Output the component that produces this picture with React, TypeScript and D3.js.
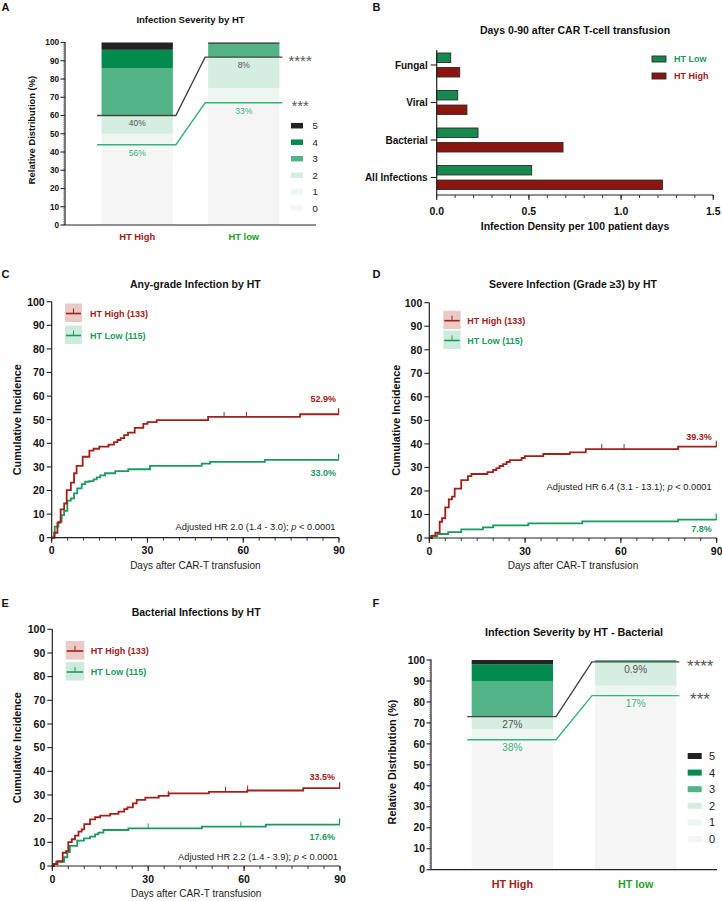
import React from 'react';
import * as d3 from 'd3';

const FONT = '"Liberation Sans", Arial, Helvetica, sans-serif';
const RED = '#a3201a';
const GREEN = '#1b9b5f';
const LABEL_GREEN = '#1f9e2c';
const LINE_GREEN = '#35b27d';
const AXIS = '#222';
const GRADE_COLORS = ['#f5f5f5', '#edf6f1', '#d6ede2', '#52b386', '#008a4e', '#232323'];

// ---------- Panel A / F : severity distribution ----------
const severityGroups = ['HT High', 'HT low'];
const severityGrades = ['0', '1', '2', '3', '4', '5'];

const allGradeHigh = [44, 6, 10, 26, 10, 4];
const allGradeLow = [67, 8, 17, 7, 0.3, 0.7];
const allLineBlack = [60, 92];
const allLineGreen = [44, 67];
const allBlackLabels = ['40%', '8%'];
const allGreenLabels = ['56%', '33%'];

const bactGradeHigh = [62, 5, 6, 17, 8, 2];
const bactGradeLow = [83, 4.8, 11.3, 0.9, 0, 0];
const bactLineBlack = [73, 99.1];
const bactLineGreen = [62, 83];
const bactBlackLabels = ['27%', '0.9%'];
const bactGreenLabels = ['38%', '17%'];

// ---------- Panel B : infection density ----------
const densityCategories = ['Fungal', 'Viral', 'Bacterial', 'All Infections'];
const densitySeries = ['HT Low', 'HT High'];
const densityLow = [0.076, 0.114, 0.224, 0.515];
const densityHigh = [0.125, 0.164, 0.685, 1.224];
const densityTicks = [0, 0.5, 1.0, 1.5];

// ---------- Panel C : any-grade ----------
const anyHighDays = [0, 0.8, 1.8, 2.8, 3.9, 4.7, 6.0, 7.0, 7.8, 9.7, 11.8, 13.1, 14.9, 17.8, 19.5, 20.6, 21.6, 22.7, 23.9, 26.0, 28.7, 30.0, 32.9, 49.0, 77.8];
const anyHighValues = [0, 2.1, 6.4, 12.0, 14.5, 20.2, 23.3, 27.3, 30.4, 34.3, 36.9, 37.7, 38.6, 39.4, 40.5, 41.4, 42.2, 43.5, 44.5, 46.5, 48.2, 49.0, 49.8, 51.2, 52.3];
const anyHighCensor = [54, 61];
const anyLowDays = [0, 0.95, 2.1, 3.1, 3.9, 4.9, 6.0, 7.0, 8.0, 9.4, 10.5, 11.8, 13.1, 14.1, 15.2, 16.7, 19.9, 24.0, 30.8, 47.0, 49.6, 66.8];
const anyLowValues = [0, 4.7, 6.8, 9.6, 11.4, 15.7, 16.7, 18.8, 20.9, 22.7, 23.7, 24.0, 24.7, 25.6, 26.4, 27.3, 28.2, 29.0, 30.4, 31.4, 32.1, 33.0];
const anyLowCensor: number[] = [];

// ---------- Panel D : severe ----------
const sevHighDays = [0, 0.85, 1.9, 3.25, 4.0, 5.0, 6.1, 7.1, 7.95, 10.0, 12.1, 13.2, 18.2, 20.0, 21.0, 22.0, 23.1, 24.2, 25.2, 28.9, 29.9, 35.7, 44.0, 49.0, 77.9];
const sevHighValues = [0, 1.0, 2.3, 6.9, 8.4, 13.0, 16.4, 17.6, 21.0, 24.6, 26.3, 27.2, 28.0, 28.9, 29.7, 30.6, 31.4, 32.3, 33.1, 34.0, 34.8, 35.7, 36.4, 37.8, 38.8];
const sevHighCensor = [54, 61];
const sevLowDays = [0, 0.4, 2.5, 5.9, 10.0, 16.8, 20.0, 31.0, 47.9, 77.9];
const sevLowValues = [0, 0.85, 1.7, 2.5, 3.7, 4.5, 5.4, 6.2, 7.1, 7.8];
const sevLowCensor: number[] = [];

// ---------- Panel E : bacterial ----------
const bacHighDays = [0, 0.5, 1.6, 3.25, 4.3, 5.0, 6.1, 7.1, 8.2, 9.2, 10.0, 11.8, 13.4, 15.0, 18.1, 20.7, 22.5, 23.5, 25.2, 26.4, 29.1, 33.3, 36.4, 49.0, 61.0, 78.5];
const bacHighValues = [0, 0.85, 2.0, 5.6, 6.3, 10.1, 11.3, 12.8, 14.5, 15.5, 17.7, 19.7, 20.6, 21.3, 22.0, 23.0, 24.0, 24.8, 26.5, 27.9, 28.9, 29.6, 30.7, 31.3, 31.9, 32.9];
const bacHighCensor = [36.3, 54.2, 61.1];
const bacLowDays = [0, 0.3, 1.2, 3.7, 4.7, 5.5, 7.8, 9.9, 11.8, 13.4, 14.4, 16.0, 23.8, 46.8, 66.8];
const bacLowValues = [0, 0.85, 1.8, 3.7, 5.9, 8.5, 10.7, 11.7, 12.4, 13.4, 14.1, 15.2, 15.9, 16.6, 17.5];
const bacLowCensor = [30, 59];

const kmTicksY = d3.range(0, 101, 10);
const kmTicksX = [0, 30, 60, 90];

function Letter({ t, x, y }: { t: string; x: number; y: number }) {
  return <text x={x} y={y} fontSize={11} fontWeight="bold" fill="#111">{t}</text>;
}

function SeverityPanel(p: any) {
  const x = d3.scaleBand<string>().domain(severityGroups).range([p.x0, p.x1]).paddingInner(p.pi).paddingOuter(p.po);
  const y = d3.scaleLinear().domain([0, 100]).range([p.y0, p.y100]);
  const rows = severityGroups.map((g, i) => {
    const o: any = { group: g };
    severityGrades.forEach((k, j) => { o[k] = (i === 0 ? p.high : p.low)[j]; });
    return o;
  });
  const series = d3.stack<any>().keys(severityGrades)(rows);
  const bw = x.bandwidth();
  const b1 = x(severityGroups[0]) as number;
  const b2 = x(severityGroups[1]) as number;
  const connector = (vals: number[]) =>
    d3.line()([
      [b1 - 4.5, y(vals[0])],
      [b1 + bw + 3, y(vals[0])],
      [b2 - 3, y(vals[1])],
      [b2 + bw + 3, y(vals[1])],
    ]) as string;
  const major = y.ticks(10);
  const minor = d3.range(0, 101, 1);
  const cx = (p.x0 + p.x1) / 2;
  const yc = p.yLabelY;
  return (
    <g fontFamily={FONT}>
      <text x={cx} y={p.titleY} textAnchor="middle" fontSize={p.tfs} fontWeight="bold" fill="#111">{p.title}</text>
      {series.map((s, si) => (
        <g key={si} fill={GRADE_COLORS[si]}>
          {s.map((d: any, di: number) =>
            d[1] - d[0] > 0 ? (
              <rect key={di} x={x(d.data.group)} y={y(d[1])} width={bw} height={y(d[0]) - y(d[1])} />
            ) : null
          )}
        </g>
      ))}
      <path d={connector(p.green)} fill="none" stroke={LINE_GREEN} strokeWidth={1.4} />
      <path d={connector(p.black)} fill="none" stroke="#444" strokeWidth={1.4} />
      {severityGroups.map((g, i) => (
        <g key={g}>
          <text x={(x(g) as number) + bw / 2} y={y(p.black[i]) + p.labOff} textAnchor="middle" fontSize={p.labFs} fill="#555">{p.blackLabels[i]}</text>
          <text x={(x(g) as number) + bw / 2} y={y(p.green[i]) + p.labOff} textAnchor="middle" fontSize={p.labFs} fill={LINE_GREEN}>{p.greenLabels[i]}</text>
        </g>
      ))}
      <text x={b2 + bw + p.starOff} y={y(p.black[1]) + p.starFs * 0.57} fontSize={p.starFs} fill="#555">****</text>
      <text x={b2 + bw + p.starOff + 3} y={y(p.green[1]) + p.starFs * 0.57} fontSize={p.starFs} fill="#555">***</text>
      {/* axes */}
      <line x1={p.x0} x2={p.x0} y1={p.y0} y2={p.y100 - 0.5} stroke={AXIS} strokeWidth={1.2} />
      <line x1={p.x0} x2={p.x1} y1={p.y0} y2={p.y0} stroke={AXIS} strokeWidth={1.2} />
      {minor.map((t) => (
        <line key={'m' + t} x1={p.x0 - 2} x2={p.x0} y1={y(t)} y2={y(t)} stroke="#666" strokeWidth={0.6} />
      ))}
      {major.map((t) => (
        <g key={'M' + t}>
          <line x1={p.x0 - 4.5} x2={p.x0} y1={y(t)} y2={y(t)} stroke={AXIS} strokeWidth={1.1} />
          <text x={p.x0 - 6} y={y(t) + p.fs * 0.36} textAnchor="end" fontSize={p.fs} fontWeight="bold" fill="#111">{t}</text>
        </g>
      ))}
      <text transform={`translate(${p.yLabelX},${yc}) rotate(-90)`} dy="0.36em" textAnchor="middle" fontSize={p.yfs} fontWeight="bold" fill="#111">Relative Distribution (%)</text>
      {severityGroups.map((g, i) => (
        <text key={g} x={(x(g) as number) + bw / 2} y={p.xLabelY} textAnchor="middle" fontSize={p.yfs} fontWeight="bold" fill={i === 0 ? RED : LABEL_GREEN}>{g}</text>
      ))}
      {/* legend */}
      {severityGrades.slice().reverse().map((k, i) => {
        const gi = severityGrades.length - 1 - i;
        const ry = p.legY + i * p.legStep;
        return (
          <g key={k}>
            <rect x={p.legX} y={ry - p.legH / 2} width={p.legW} height={p.legH} fill={GRADE_COLORS[gi]} />
            <text x={p.legTextX} y={ry + p.legFs * 0.36} fontSize={p.legFs} fill="#222">{k}</text>
          </g>
        );
      })}
    </g>
  );
}

function DensityPanel() {
  const x = d3.scaleLinear().domain([0, 1.5]).range([436.7, 713.3]);
  const y = d3.scaleBand<string>().domain(densityCategories).range([46.25, 196.25]);
  const inner = d3.scaleBand<string>().domain(densitySeries).range([6.75, 30.75]).paddingInner(0.35);
  const minor = d3.range(0, 1.51, 0.1);
  const colors: Record<string, string> = { 'HT Low': '#15894f', 'HT High': '#8c1510' };
  const textColors: Record<string, string> = { 'HT Low': GREEN, 'HT High': RED };
  const vals: Record<string, number[]> = { 'HT Low': densityLow, 'HT High': densityHigh };
  const x0 = x(0);
  const yAxisBottom = 195;
  return (
    <g fontFamily={FONT}>
      <text x={575} y={34} textAnchor="middle" fontSize={10.5} fontWeight="bold" fill="#111">Days 0-90 after CAR T-cell transfusion</text>
      {densityCategories.map((c, ci) => (
        <g key={c}>
          {densitySeries.map((s) => (
            <rect key={s} x={x0} y={(y(c) as number) + (inner(s) as number)} width={x(vals[s][ci]) - x0} height={inner.bandwidth()} fill={colors[s]} stroke="#2b2b2b" strokeWidth={0.9} />
          ))}
          <line x1={x0 - 6} x2={x0} y1={(y(c) as number) + y.bandwidth() / 2} y2={(y(c) as number) + y.bandwidth() / 2} stroke={AXIS} strokeWidth={1.1} />
          <text x={427.7} y={(y(c) as number) + y.bandwidth() / 2 + 3.6} textAnchor="end" fontSize={10} fontWeight="bold" fill="#111">{c}</text>
        </g>
      ))}
      <line x1={x0} x2={x0} y1={50} y2={yAxisBottom} stroke={AXIS} strokeWidth={1.2} />
      <line x1={x0} x2={x(1.5)} y1={yAxisBottom} y2={yAxisBottom} stroke={AXIS} strokeWidth={1.2} />
      {minor.map((t, i) => (
        <line key={'m' + i} x1={x(t)} x2={x(t)} y1={yAxisBottom} y2={yAxisBottom + 3} stroke={AXIS} strokeWidth={0.9} />
      ))}
      {densityTicks.map((t) => (
        <g key={t}>
          <line x1={x(t)} x2={x(t)} y1={yAxisBottom} y2={yAxisBottom + 5} stroke={AXIS} strokeWidth={1.1} />
          <text x={x(t)} y={214.5} textAnchor="middle" fontSize={10.5} fontWeight="bold" fill="#111">{t.toFixed(1)}</text>
        </g>
      ))}
      <text x={575} y={230} textAnchor="middle" fontSize={10.5} fontWeight="bold" fill="#111">Infection Density per 100 patient days</text>
      {densitySeries.map((s, i) => (
        <g key={s}>
          <rect x={652} y={59 + i * 17 - 3} width={14} height={6} fill={colors[s]} stroke="#2b2b2b" strokeWidth={0.9} />
          <text x={674} y={59 + i * 17 + 3.2} fontSize={9} fontWeight="bold" fill={textColors[s]}>{s}</text>
        </g>
      ))}
    </g>
  );
}

function KMPanel(p: any) {
  const x = d3.scaleLinear().domain([0, 90]).range([p.x0, p.x1]);
  const y = d3.scaleLinear().domain([0, 100]).range([p.y0, p.y100]);
  const line = d3.line().curve(d3.curveStepAfter);
  const pathFor = (days: number[], values: number[]) => {
    const pts: [number, number][] = days.map((d, i) => [x(d), y(values[i])]);
    pts.push([x(90), y(values[values.length - 1])]);
    return line(pts) as string;
  };
  const valueAt = (days: number[], values: number[], t: number) => {
    let v = 0;
    days.forEach((d, i) => { if (d <= t) v = values[i]; });
    return v;
  };
  const series = [
    { days: p.lowDays, values: p.lowValues, censor: p.lowCensor, color: GREEN },
    { days: p.highDays, values: p.highValues, censor: p.highCensor, color: RED },
  ];
  const minorX = d3.range(0, 91, 5);
  const cx = (p.x0 + p.x1) / 2;
  const legend = [
    { label: 'HT High (133)', color: RED, fill: '#ebc9c6', y: p.legRedY },
    { label: 'HT Low (115)', color: GREEN, fill: '#cdebdc', y: p.legGreenY },
  ];
  return (
    <g fontFamily={FONT}>
      <text x={cx} y={p.titleY} textAnchor="middle" fontSize={10.5} fontWeight="bold" fill="#111">{p.title}</text>
      {series.map((s, i) => (
        <g key={i} stroke={s.color} fill="none" strokeWidth={1.8}>
          <path d={pathFor(s.days, s.values)} />
          {s.censor.map((c: number) => {
            const v = valueAt(s.days, s.values, c);
            return <line key={c} x1={x(c)} x2={x(c)} y1={y(v)} y2={y(v) - 5} strokeWidth={1} />;
          })}
          <line x1={x(90) - 0.4} x2={x(90) - 0.4} y1={y(s.values[s.values.length - 1])} y2={y(s.values[s.values.length - 1]) - 6} strokeWidth={1.2} />
        </g>
      ))}
      {/* axes */}
      <line x1={p.x0} x2={p.x0} y1={p.y0} y2={p.y100} stroke={AXIS} strokeWidth={1.2} />
      <line x1={p.x0} x2={p.x1} y1={p.y0} y2={p.y0} stroke={AXIS} strokeWidth={1.2} />
      {kmTicksY.map((t) => (
        <g key={t}>
          <line x1={p.x0 - 5} x2={p.x0} y1={y(t)} y2={y(t)} stroke={AXIS} strokeWidth={1.1} />
          <text x={p.x0 - 7} y={y(t) + 3.8} textAnchor="end" fontSize={10.5} fontWeight="bold" fill="#111">{t}</text>
        </g>
      ))}
      {minorX.map((t) => (
        <line key={'m' + t} x1={x(t)} x2={x(t)} y1={p.y0} y2={p.y0 + 3} stroke={AXIS} strokeWidth={0.9} />
      ))}
      {kmTicksX.map((t) => (
        <g key={t}>
          <line x1={x(t)} x2={x(t)} y1={p.y0} y2={p.y0 + 5} stroke={AXIS} strokeWidth={1.1} />
          <text x={x(t)} y={p.y0 + 16.5} textAnchor="middle" fontSize={10.5} fontWeight="bold" fill="#111">{t}</text>
        </g>
      ))}
      <text x={cx} y={p.y0 + 31} textAnchor="middle" fontSize={10} fill="#222">Days after CAR-T transfusion</text>
      <text transform={`translate(${p.yLabelX},${(p.y0 + p.y100) / 2}) rotate(-90)`} dy="0.36em" textAnchor="middle" fontSize={10.8} fontWeight="bold" fill="#111">Cumulative Incidence</text>
      {legend.map((l) => (
        <g key={l.label}>
          <rect x={p.legX} y={l.y} width={p.legW} height={18.5} fill={l.fill} />
          <line x1={p.legX + 1} x2={p.legX + p.legW - 1} y1={l.y + 10} y2={l.y + 10} stroke={l.color} strokeWidth={1.6} />
          <line x1={p.legX + p.legW / 2} x2={p.legX + p.legW / 2} y1={l.y + 10} y2={l.y + 5} stroke={l.color} strokeWidth={1} />
          <text x={p.legTextX} y={l.y + 10 + 3.3} fontSize={9} fontWeight="bold" fill={l.color}>{l.label}</text>
        </g>
      ))}
      <text x={p.annX} y={p.annHighY} textAnchor="end" fontSize={9} fontWeight="bold" fill={RED}>{p.annHigh}</text>
      <text x={p.annX} y={p.annLowY} textAnchor="end" fontSize={9} fontWeight="bold" fill={GREEN}>{p.annLow}</text>
      <text x={p.hrX} y={p.hrY} textAnchor="end" fontSize={9.3} fill="#222">
        {p.hrText}<tspan fontStyle="italic">p</tspan> {'< 0.0001'}
      </text>
    </g>
  );
}

export default function App() {
  return (
    <svg width={722} height={901} style={{ position: 'absolute', left: 0, top: 0, background: '#fff' }} fontFamily={FONT}>
      <rect x={0} y={0} width={722} height={901} fill="#fff" />
      <Letter t="A" x={1.5} y={11} />
      <Letter t="B" x={372.5} y={11} />
      <Letter t="C" x={1.5} y={278} />
      <Letter t="D" x={372.5} y={278} />
      <Letter t="E" x={1.5} y={607} />
      <Letter t="F" x={372.5} y={606.5} />

      <SeverityPanel
        x0={65} x1={316} y0={225} y100={42.5} pi={0.331} po={0.343}
        high={allGradeHigh} low={allGradeLow} black={allLineBlack} green={allLineGreen}
        blackLabels={allBlackLabels} greenLabels={allGreenLabels}
        title="Infection Severity by HT" titleY={22.5} tfs={9.5} fs={8.2} yfs={9.4} labFs={8.5} labOff={10.8}
        starFs={15} starOff={9}
        yLabelX={32} yLabelY={130} xLabelY={240}
        legX={291} legY={125.7} legStep={16.5} legW={12} legH={5.5} legTextX={312.5} legFs={9.5}
      />

      <DensityPanel />

      <KMPanel
        x0={51.7} x1={339} y0={537.7} y100={301.7}
        title="Any-grade Infection by HT" titleY={287.5} yLabelX={17.5}
        highDays={anyHighDays} highValues={anyHighValues} highCensor={anyHighCensor}
        lowDays={anyLowDays} lowValues={anyLowValues} lowCensor={anyLowCensor}
        legX={65} legW={17} legRedY={303.5} legGreenY={325.5} legTextX={90}
        annX={336} annHigh="52.9%" annHighY={401.5} annLow="33.0%" annLowY={476}
        hrX={335.5} hrY={529.5} hrText="Adjusted HR 2.0 (1.4 - 3.0); "
      />

      <KMPanel
        x0={429.3} x1={716.7} y0={538} y100={302.7}
        title="Severe Infection (Grade ≥3) by HT" titleY={287.5} yLabelX={395.7}
        highDays={sevHighDays} highValues={sevHighValues} highCensor={sevHighCensor}
        lowDays={sevLowDays} lowValues={sevLowValues} lowCensor={sevLowCensor}
        legX={443.3} legW={17.4} legRedY={310.7} legGreenY={330.5} legTextX={467.3}
        annX={711.7} annHigh="39.3%" annHighY={440} annLow="7.8%" annLowY={531.7}
        hrX={711.7} hrY={490} hrText="Adjusted HR 6.4 (3.1 - 13.1); "
      />

      <KMPanel
        x0={52.3} x1={340} y0={866} y100={629.3}
        title="Bacterial Infections by HT" titleY={616} yLabelX={17}
        highDays={bacHighDays} highValues={bacHighValues} highCensor={bacHighCensor}
        lowDays={bacLowDays} lowValues={bacLowValues} lowCensor={bacLowCensor}
        legX={65.7} legW={18.6} legRedY={641} legGreenY={662} legTextX={90.7}
        annX={335} annHigh="33.5%" annHighY={780} annLow="17.6%" annLowY={840}
        hrX={338} hrY={859.5} hrText="Adjusted HR 2.2 (1.4 - 3.9); "
      />

      <SeverityPanel
        x0={431} x1={717} y0={869.7} y100={660} pi={0.34} po={0.33}
        high={bactGradeHigh} low={bactGradeLow} black={bactLineBlack} green={bactLineGreen}
        blackLabels={bactBlackLabels} greenLabels={bactGreenLabels}
        title="Infection Severity by HT - Bacterial" titleY={636} tfs={10.8} fs={10.3} yfs={10.8} labFs={10} labOff={11.5}
        starFs={17} starOff={10.7}
        yLabelX={392.3} yLabelY={762} xLabelY={888}
        legX={687.7} legY={756} legStep={16.6} legW={14} legH={6} legTextX={709} legFs={11}
      />
    </svg>
  );
}
